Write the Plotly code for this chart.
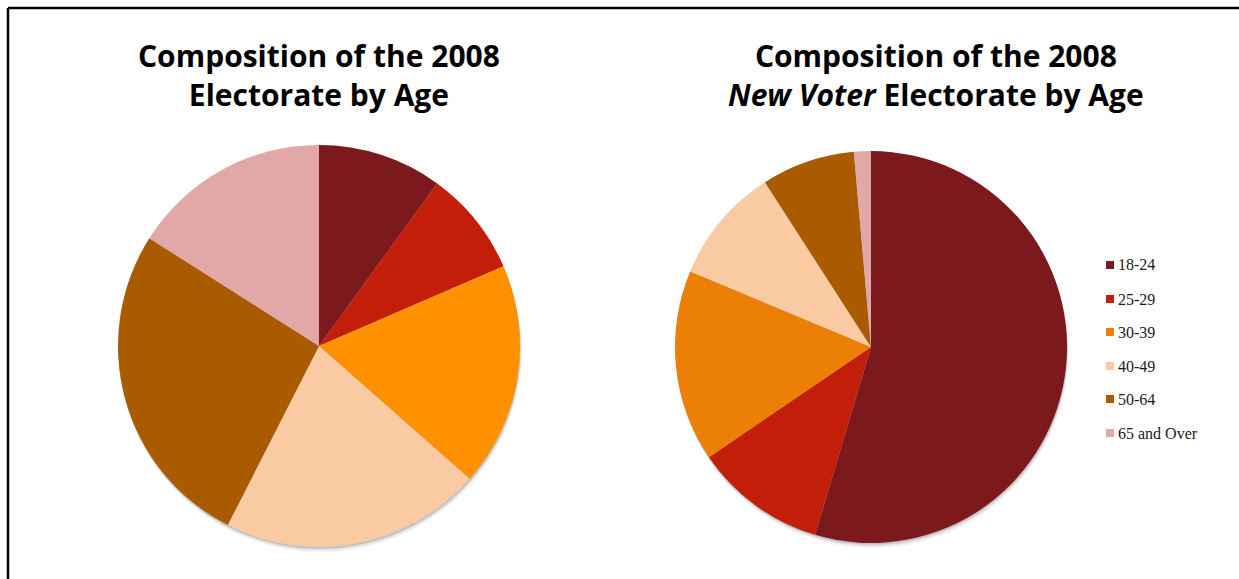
import plotly.graph_objects as go

W, H = 1239, 579

age_groups = ["18-24", "25-29", "30-39", "40-49", "50-64", "65 and Over"]
all_voters = [10.0, 8.5, 18.0, 21.0, 26.5, 16.0]
new_voters = [54.6, 10.9, 15.8, 9.6, 7.7, 1.4]

colors_all = ["#7B191C", "#C31E0A", "#FF9100", "#FACBA2", "#AA5B00", "#E1A8A7"]
colors_new = ["#7B191C", "#C31E0A", "#EC7F05", "#FACBA2", "#AA5B00", "#E1A8A7"]

title_left = "Composition of the 2008<br>Electorate by Age"
title_right = "Composition of the 2008<br><i>New Voter</i> Electorate by Age"


def px_dom(x0, x1, y0, y1):
    return dict(x=[x0 / W, x1 / W], y=[1 - y1 / H, 1 - y0 / H])


left_box = (118, 520, 145, 547)
right_box = (675, 1067, 151, 543)

fig = go.Figure()

# soft drop shadows
for box in (left_box, right_box):
    for off, alpha in ((5, 0.05), (3, 0.09), (1.5, 0.12)):
        x0, x1, y0, y1 = box
        fig.add_trace(go.Pie(
            values=[1], labels=["shadow"], sort=False,
            domain=px_dom(x0 + off * 0.3, x1 + off * 0.3, y0 + off, y1 + off),
            marker=dict(colors=[f"rgba(0,0,0,{alpha})"], line=dict(width=0)),
            textinfo="none", hoverinfo="skip", showlegend=False,
        ))

fig.add_trace(go.Pie(
    labels=age_groups, values=all_voters, sort=False,
    direction="clockwise", rotation=0,
    domain=px_dom(*left_box),
    marker=dict(colors=colors_all, line=dict(width=0)),
    textinfo="none", showlegend=False,
))
fig.add_trace(go.Pie(
    labels=age_groups, values=new_voters, sort=False,
    direction="clockwise", rotation=0,
    domain=px_dom(*right_box),
    marker=dict(colors=colors_new, line=dict(width=0)),
    textinfo="none", showlegend=False,
))

shapes = []
annotations = []

# frame
shapes.append(dict(type="line", xref="paper", yref="paper",
                   x0=8 / W, x1=8 / W, y0=-0.05, y1=1 - 8 / H,
                   line=dict(color="black", width=2.5)))
shapes.append(dict(type="line", xref="paper", yref="paper",
                   x0=8 / W, x1=1.05, y0=1 - 8 / H, y1=1 - 8 / H,
                   line=dict(color="black", width=2.5)))

title_font = dict(family="'Open Sans', Lato, sans-serif", size=30, color="black")
annotations.append(dict(text="<b>" + title_left + "</b>", x=318.5 / W, y=1 - 33 / H,
                        xref="paper", yref="paper", xanchor="center", yanchor="top",
                        showarrow=False, font=title_font, align="center"))
annotations.append(dict(text="<b>" + title_right + "</b>", x=936 / W, y=1 - 33 / H,
                        xref="paper", yref="paper", xanchor="center", yanchor="top",
                        showarrow=False, font=title_font, align="center"))

# custom legend
leg_y = [265, 299, 332, 366, 399, 433]
for lab, col, yc in zip(age_groups, colors_new, leg_y):
    shapes.append(dict(type="rect", xref="paper", yref="paper",
                       x0=1106 / W, x1=1114 / W, y0=1 - (yc + 4) / H, y1=1 - (yc - 4) / H,
                       fillcolor=col, line=dict(width=0)))
    annotations.append(dict(text=lab, x=1116 / W, y=1 - yc / H,
                            xref="paper", yref="paper", xanchor="left", yanchor="middle",
                            showarrow=False,
                            font=dict(family="Liberation Serif, Times New Roman, serif",
                                      size=16, color="#1a1a1a")))

fig.update_layout(
    width=W, height=H, autosize=False,
    margin=dict(l=0, r=0, t=0, b=0),
    paper_bgcolor="white", plot_bgcolor="white",
    shapes=shapes, annotations=annotations,
    showlegend=False,
)

fig.write_html("out.html")
